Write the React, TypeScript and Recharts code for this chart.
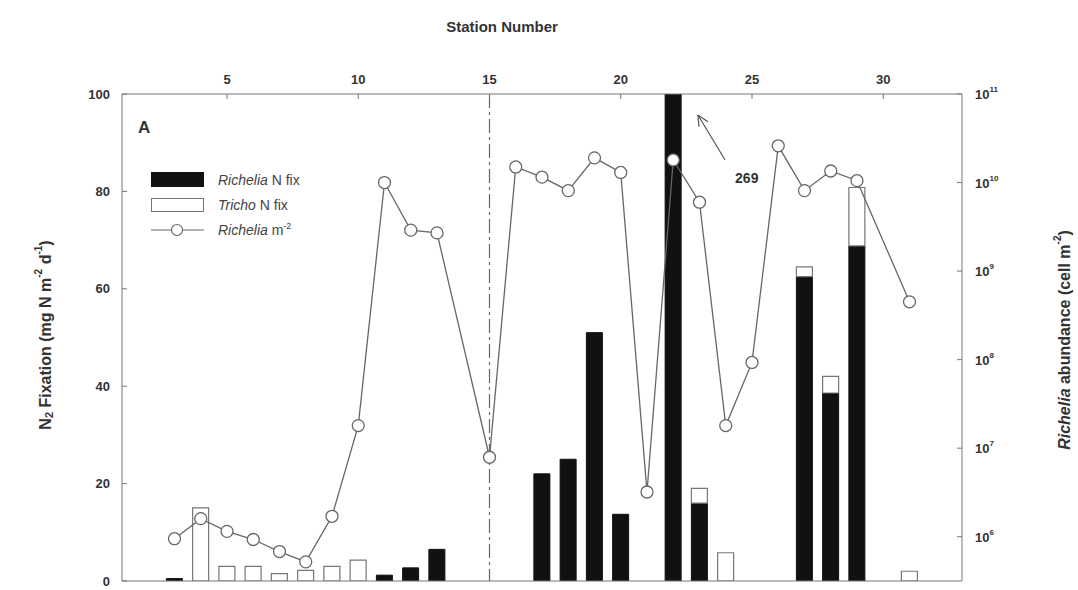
import React from "react"
import {
  ComposedChart,
  Bar,
  Line,
  XAxis,
  YAxis,
  ReferenceLine,
  ReferenceDot,
  Label,
} from "recharts"

// station numbers with a measurement
const STATIONS = [3, 4, 5, 6, 7, 8, 9, 10, 11, 12, 13, 15, 16, 17, 18, 19, 20, 21, 22, 23, 24, 25, 26, 27, 28, 29, 31]

// N2 fixation, mg N m-2 d-1 (null = nothing drawn)
const RICHELIA_NFIX = [0.5, null, null, null, null, null, null, null, 1.2, 2.7, 6.5, null, null, 22, 25, 51, 13.7, null, 269, 16, null, null, null, 62.5, 38.6, 68.8, null]
const TRICHO_NFIX = [null, 15, 3, 3, 1.5, 2.2, 3, 4.3, null, null, null, null, null, null, null, null, null, null, null, 3, 5.8, null, null, 2, 3.4, 12, 2]

// Richelia abundance, cells m-2
const RICHELIA_ABUND = [
  9.5e5, 1.6e6, 1.15e6, 9.3e5, 6.8e5, 5.2e5, 1.7e6, 1.8e7, 1.0e10, 2.9e9, 2.7e9,
  7.9e6, 1.5e10, 1.15e10, 8.1e9, 1.9e10, 1.3e10, 3.2e6, 1.8e10, 6.0e9, 1.8e7,
  9.3e7, 2.6e10, 8.1e9, 1.35e10, 1.05e10, 4.5e8,
]

const STATION_TICKS = [5, 10, 15, 20, 25, 30]
const NFIX_TICKS = [0, 20, 40, 60, 80, 100]
const ABUND_TICKS = [1e6, 1e7, 1e8, 1e9, 1e10, 1e11]

const FONT = "'Liberation Sans', Arial, sans-serif"
const INK = "#333"
const AXIS = "#777"

const data = STATIONS.map((station, i) => ({
  station,
  richelia: RICHELIA_NFIX[i],
  tricho: TRICHO_NFIX[i],
  abundance: RICHELIA_ABUND[i],
}))

const tickStyle = { fontSize: 13, fontWeight: 700, fill: INK, fontFamily: FONT }

function LogTick(props: any) {
  const { x, y, payload } = props
  const exp = Math.round(Math.log10(payload.value))
  return (
    <text x={x} y={y} dy={5} textAnchor="start" fontFamily={FONT} fontSize={13} fontWeight={700} fill={INK}>
      10
      <tspan dy={-7} fontSize={8}>{exp}</tspan>
    </text>
  )
}

// legend drawn as an overlay so it takes no room from the plot
function LegendBox() {
  const row = { display: "flex", alignItems: "center", height: 25 }
  return (
    <div style={{ position: "absolute", left: 150, top: 167, fontFamily: FONT, fontSize: 14, color: "#444" }}>
      <div style={row}>
        <svg width={56} height={18}>
          <rect x={1} y={1} width={53} height={15} fill="#111" />
        </svg>
        <span style={{ marginLeft: 12 }}><i>Richelia</i> N fix</span>
      </div>
      <div style={row}>
        <svg width={56} height={18}>
          <rect x={1.5} y={2.5} width={52} height={13} fill="#fff" stroke="#777" />
        </svg>
        <span style={{ marginLeft: 12 }}><i>Tricho</i> N fix</span>
      </div>
      <div style={row}>
        <svg width={56} height={18}>
          <line x1={1} y1={9} x2={54} y2={9} stroke="#666" strokeWidth={1.2} />
          <circle cx={27} cy={9} r={5.5} fill="#fff" stroke="#666" strokeWidth={1.2} />
        </svg>
        <span style={{ marginLeft: 12 }}><i>Richelia</i> m<sup style={{ fontSize: 9 }}>-2</sup></span>
      </div>
    </div>
  )
}

const leftTitle = () => (
  <text x={45} y={335} transform="rotate(-90 45 335)" textAnchor="middle" dominantBaseline="central"
    fontFamily={FONT} fontSize={16} fontWeight={700} fill={INK}>
    N<tspan dy={4} fontSize={11}>2</tspan>
    <tspan dy={-4}> Fixation (mg N m</tspan>
    <tspan dy={-7} fontSize={10}>-2</tspan>
    <tspan dy={7}> d</tspan>
    <tspan dy={-7} fontSize={10}>-1</tspan>
    <tspan dy={7}>)</tspan>
  </text>
)

const rightTitle = () => (
  <text x={1064} y={340} transform="rotate(-90 1064 340)" textAnchor="middle" dominantBaseline="central"
    fontFamily={FONT} fontSize={16} fontWeight={700} fill={INK}>
    <tspan fontStyle="italic">Richelia</tspan>
    <tspan> abundance (cell m</tspan>
    <tspan dy={-7} fontSize={10}>-2</tspan>
    <tspan dy={7}>)</tspan>
  </text>
)

const topTitle = () => (
  <text x={502} y={32} textAnchor="middle" fontFamily={FONT} fontSize={15} fontWeight={700} fill={INK}>
    Station Number
  </text>
)

export default function App() {
  return (
    <div style={{ position: "absolute", left: 0, top: 0, width: 1078, height: 590, background: "#fff" }}>
      <ComposedChart width={1078} height={590} data={data} margin={{ top: 54, right: 56, bottom: 8, left: 62 }}>
        <XAxis
          xAxisId="top"
          orientation="top"
          type="number"
          dataKey="station"
          domain={[1, 33]}
          ticks={STATION_TICKS}
          interval={0}
          allowDataOverflow
          height={40}
          tick={tickStyle}
          tickSize={-5}
          tickMargin={15}
          stroke={AXIS}
        >
          <Label content={topTitle} />
        </XAxis>
        <XAxis
          xAxisId="bottom"
          orientation="bottom"
          type="number"
          dataKey="station"
          domain={[1, 33]}
          height={1}
          tick={false}
          tickLine={false}
          stroke={AXIS}
        />
        <YAxis
          yAxisId="left"
          domain={[0, 100]}
          ticks={NFIX_TICKS}
          interval={0}
          allowDataOverflow
          width={60}
          tick={tickStyle}
          tickSize={-5}
          tickMargin={17}
          stroke={AXIS}
        >
          <Label content={leftTitle} />
        </YAxis>
        <YAxis
          yAxisId="right"
          orientation="right"
          scale="log"
          domain={[Math.pow(10, 5.5), 1e11]}
          ticks={ABUND_TICKS}
          interval={0}
          allowDataOverflow
          width={60}
          tick={<LogTick />}
          tickSize={-5}
          tickMargin={18}
          stroke={AXIS}
        >
          <Label content={rightTitle} />
        </YAxis>

        <ReferenceLine xAxisId="top" yAxisId="left" x={15} stroke="#666" strokeWidth={1.2} strokeDasharray="14 4 3 4" />

        <Bar xAxisId="top" yAxisId="left" dataKey="richelia" stackId="n" barSize={16} fill="#111" stroke="#111" isAnimationActive={false} />
        <Bar xAxisId="top" yAxisId="left" dataKey="tricho" stackId="n" barSize={16} fill="#fff" stroke="#777" strokeWidth={1.2} isAnimationActive={false} />

        <Line
          xAxisId="top"
          yAxisId="right"
          dataKey="abundance"
          type="linear"
          stroke="#666"
          strokeWidth={1.3}
          dot={{ r: 6, fill: "#fff", stroke: "#666", strokeWidth: 1.3 }}
          isAnimationActive={false}
        />

        {/* off-scale arrow for station 22 */}
        <ReferenceLine xAxisId="top" yAxisId="left" segment={[{ x: 22.94, y: 95.7 }, { x: 23.97, y: 86.5 }]} stroke="#555" strokeWidth={1.2} />
        <ReferenceLine xAxisId="top" yAxisId="left" segment={[{ x: 22.94, y: 95.7 }, { x: 23.32, y: 94.3 }]} stroke="#555" strokeWidth={1.2} />
        <ReferenceLine xAxisId="top" yAxisId="left" segment={[{ x: 22.94, y: 95.7 }, { x: 22.98, y: 93.3 }]} stroke="#555" strokeWidth={1.2} />
        <ReferenceDot xAxisId="top" yAxisId="left" x={24.8} y={82.8} r={0} stroke="none"
          label={{ value: "269", position: "center", fontFamily: FONT, fontSize: 14, fontWeight: 700, fill: INK }} />
      </ComposedChart>
      <LegendBox />
      <div style={{ position: "absolute", left: 138, top: 118, fontFamily: FONT, fontSize: 17, fontWeight: 700, color: INK }}>
        A
      </div>
    </div>
  )
}
